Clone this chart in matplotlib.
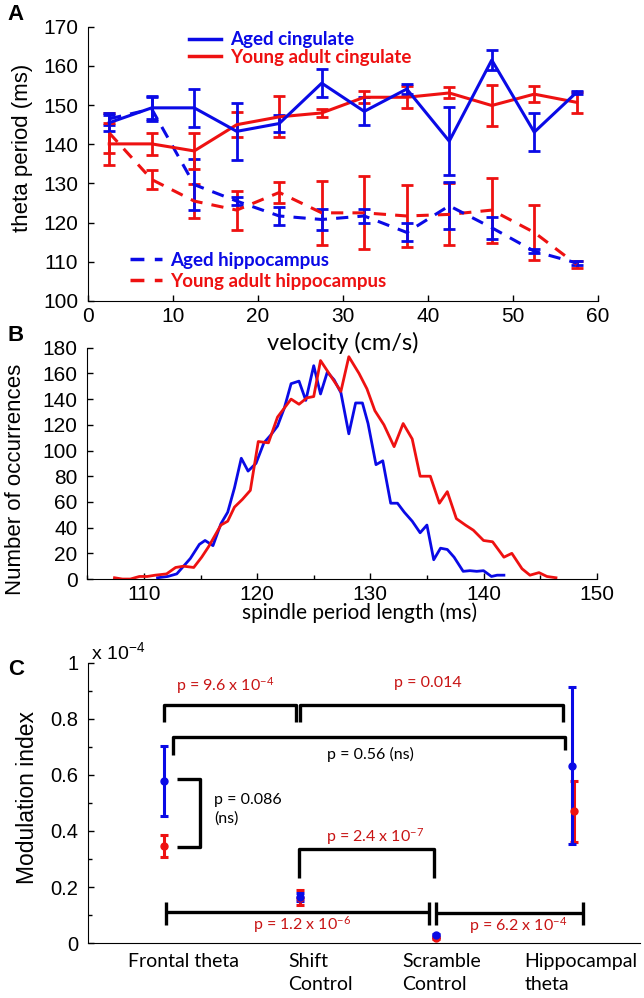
import matplotlib.pyplot as plt
from matplotlib.ticker import MultipleLocator

plt.rcParams['font.family'] = ['Liberation Sans', 'DejaVu Sans']
plt.rcParams['mathtext.default'] = 'regular'
NARROW = ['Lato', 'DejaVu Sans']

BLUE = '#0a0ae6'
RED = '#ee1111'
DARKRED = '#c81414'

# ---- panel A: theta period vs running velocity
velocity = [2.5, 7.5, 12.5, 17.5, 22.5, 27.5, 32.5, 37.5, 42.5, 47.5, 52.5, 57.5]
aged_cing = [145.5, 149.3, 149.3, 143.3, 145.3, 155.6, 148.4, 154.1, 140.8, 161.5, 143.1, 153.3]
aged_cing_err = [2.0, 2.9, 4.8, 7.2, 2.2, 3.5, 3.6, 1.3, 8.6, 2.6, 4.8, 0.4]
young_cing = [140.1, 140.1, 138.3, 145.0, 147.0, 148.0, 152.0, 152.0, 153.1, 149.9, 152.8, 150.7]
young_cing_err = [5.3, 2.9, 4.5, 3.2, 5.2, 1.0, 1.5, 2.8, 1.4, 5.3, 2.0, 2.6]
aged_hipp = [146.5, 149.0, 129.7, 125.5, 121.7, 120.8, 121.7, 117.5, 124.3, 118.7, 112.7, 109.7]
aged_hipp_err = [1.5, 3.0, 6.5, 1.0, 2.2, 2.6, 1.7, 2.3, 6.0, 2.8, 0.5, 0.5]
young_hipp = [142.9, 131.0, 125.5, 123.2, 127.7, 122.5, 122.5, 121.7, 122.1, 123.2, 117.5, 109.3]
young_hipp_err = [5.2, 2.5, 4.3, 5.0, 2.8, 8.2, 9.3, 8.0, 7.9, 8.3, 7.0, 0.9]

# ---- panel B: spindle period histograms
blue_ms = [111.2, 112.1, 112.9, 114.1, 114.9, 115.4, 116.1, 116.8, 117.4, 118.0, 118.6, 119.2,
           119.9, 120.6, 121.2, 121.8, 122.4, 123.0, 123.7, 124.3, 125.0, 125.6, 126.2, 126.8,
           127.4, 128.1, 128.7, 129.3, 129.8, 130.5, 131.1, 131.8, 132.4, 133.0, 133.7, 134.4,
           135.0, 135.6, 136.2, 136.8, 137.4, 138.2, 138.8, 139.4, 140.0, 140.7, 141.2, 141.8]
blue_count = [1, 2, 4, 16, 27, 30, 26, 43, 52, 71, 94, 84,
              90, 106, 112, 119, 133, 152, 154, 139, 166, 144, 161, 155,
              145, 113, 137, 137, 121, 89, 92, 59, 59, 52, 45, 36,
              42, 15, 24, 23, 17, 6, 6.5, 6, 6.5, 2, 3, 3]
red_ms = [107.4, 108.1, 108.8, 109.6, 110.3, 111.0, 112.0, 112.8, 113.5, 114.4, 115.1, 115.7,
          116.8, 117.4, 118.0, 118.7, 119.4, 120.1, 121.0, 121.8, 122.4, 123.0, 123.7, 124.4,
          125.0, 125.6, 126.5, 127.4, 128.1, 129.0, 129.7, 130.4, 131.2, 132.1, 132.9, 133.7,
          134.4, 135.3, 136.1, 136.8, 137.6, 138.4, 139.1, 140.0, 140.8, 141.8, 142.5, 143.4,
          144.1, 144.9, 145.6, 146.4]
red_count = [1, 0, 0, 2, 2, 3, 4, 9, 10, 9, 17, 25,
             42, 45, 56, 62, 69, 107, 106, 126, 133, 140, 136, 141,
             142, 170, 158, 146, 173, 160, 148, 131, 120, 103, 121, 109,
             80, 80, 59, 68, 47, 42, 38, 30, 29, 17, 20, 8,
             3, 5, 2, 1]

# ---- panel C: modulation index (x 1e-4)
categories = ['Frontal theta', 'Shift\nControl', 'Scramble\nControl', 'Hippocampal\ntheta']
cat_pos = [1, 2, 3, 4]
aged_mi = [0.578, 0.164, 0.027, 0.633]
aged_mi_err = [0.125, 0.015, 0.006, 0.28]
young_mi = [0.347, 0.162, 0.018, 0.47]
young_mi_err = [0.04, 0.028, 0.005, 0.11]
young_dodge = [0, 0, 0, 0.015]

fig = plt.figure(figsize=(6.44, 9.98), dpi=100)


def clean(ax):
    ax.spines['top'].set_visible(False)
    ax.spines['right'].set_visible(False)
    ax.patch.set_visible(False)
    ax.tick_params(direction='in', length=4, width=1, labelsize=15, pad=7)
    ax.tick_params(which='minor', direction='in', length=3, width=1)


# ================= A =================
axA = fig.add_axes([0.1366, 0.6984, 0.792, 0.2748])
ebA = dict(elinewidth=2.0, capsize=4, capthick=2.0, lw=2.2)
axA.errorbar(velocity, young_hipp, yerr=young_hipp_err, color=RED, ls=(0, (4, 3)), **ebA)
axA.errorbar(velocity, aged_hipp, yerr=aged_hipp_err, color=BLUE, ls=(0, (4, 3)), **ebA)
axA.errorbar(velocity, young_cing, yerr=young_cing_err, color=RED, ls='-', **ebA)
axA.errorbar(velocity, aged_cing, yerr=aged_cing_err, color=BLUE, ls='-', **ebA)
axA.set_xlim(0, 60)
axA.set_ylim(100, 170)
axA.xaxis.set_major_locator(MultipleLocator(10))
axA.yaxis.set_major_locator(MultipleLocator(10))
clean(axA)
axA.tick_params(axis='x', pad=4)
axA.set_ylabel('theta period (ms)', fontsize=16)
axA.yaxis.set_label_coords(-0.108, 0.56)
axA.set_xlabel('velocity (cm/s)', fontsize=17, family=NARROW)
axA.xaxis.set_label_coords(0.5, -0.113)

# legend entries drawn as proxy lines
leg_font = dict(family=NARROW, weight='bold', size=13.5)
cing_handles = [plt.Line2D([], [], color=BLUE, lw=2.5), plt.Line2D([], [], color=RED, lw=2.5)]
leg1 = axA.legend(cing_handles, ['Aged cingulate', 'Young adult cingulate'], loc='upper left',
                  bbox_to_anchor=(0.165, 1.045), frameon=False, handlelength=1.7, labelspacing=0.02,
                  handletextpad=0.5, prop=leg_font, labelcolor='linecolor')
axA.add_artist(leg1)
hipp_handles = [plt.Line2D([], [], color=BLUE, lw=2.5, ls=(0, (4, 3))),
                plt.Line2D([], [], color=RED, lw=2.5, ls=(0, (4, 3)))]
axA.legend(hipp_handles, ['Aged hippocampus', 'Young adult hippocampus'], loc='lower left',
           bbox_to_anchor=(0.05, -0.02), frameon=False, handlelength=1.7, labelspacing=0.2,
           handletextpad=0.4, prop=leg_font, labelcolor='linecolor')

# ================= B =================
axB = fig.add_axes([0.1356, 0.4198, 0.791, 0.2318])
axB.plot(blue_ms, blue_count, color=BLUE, lw=2.0)
axB.plot(red_ms, red_count, color=RED, lw=2.0)
axB.set_xlim(105, 150)
axB.set_ylim(0, 180)
axB.xaxis.set_major_locator(MultipleLocator(10))
axB.xaxis.set_minor_locator(MultipleLocator(5))
axB.yaxis.set_major_locator(MultipleLocator(20))
clean(axB)
axB.tick_params(axis='x', pad=4)
axB.set_ylabel('Number of occurrences', fontsize=16)
axB.yaxis.set_label_coords(-0.12, 0.43)
axB.set_xlabel('spindle period length (ms)', fontsize=15, family=NARROW)
axB.xaxis.set_label_coords(0.535, -0.1)

# ================= C =================
axC = fig.add_axes([0.137, 0.0551, 0.857, 0.2806])
ebC = dict(fmt='o', ms=5, elinewidth=2.2, capsize=3, capthick=2.2)
axC.errorbar([p + d for p, d in zip(cat_pos, young_dodge)], young_mi, yerr=young_mi_err,
             color=RED, **ebC)
axC.errorbar(cat_pos, aged_mi, yerr=aged_mi_err, color=BLUE, **ebC)
axC.set_xlim(0.44, 4.5)
axC.set_ylim(0, 1)
axC.yaxis.set_minor_locator(MultipleLocator(0.1))
axC.set_yticks([0, 0.2, 0.4, 0.6, 0.8, 1])
axC.set_yticklabels(['0', '0.2', '0.4', '0.6', '0.8', '1'])
axC.set_xticks([])
clean(axC)
axC.tick_params(axis='y', labelsize=14.5)
axC.set_ylabel('Modulation index', fontsize=16.5)
axC.yaxis.set_label_coords(-0.09, 0.52)
axC.text(0.005, 1.0, r'x 10$^{-4}$', transform=axC.transAxes, fontsize=14, va='bottom', ha='left')

for xc, name in zip([0.735, 1.91, 2.75, 3.65], categories):
    axC.text(xc, -0.035, name, transform=axC.get_xaxis_transform(), ha='left', va='top',
             fontsize=14, family=NARROW, linespacing=1.45)

# significance brackets
bk = dict(color='black', lw=2.4, solid_capstyle='butt')
axC.plot([1.0, 1.0, 1.97, 1.97], [0.79, 0.85, 0.85, 0.79], **bk)
axC.plot([2.0, 2.0, 3.93, 3.93], [0.79, 0.85, 0.85, 0.79], **bk)
axC.plot([1.06, 1.06, 3.95, 3.95], [0.67, 0.736, 0.736, 0.69], **bk)
axC.plot([1.09, 1.26, 1.26, 1.09], [0.584, 0.584, 0.343, 0.343], **bk)
axC.plot([1.99, 1.99, 2.98, 2.98], [0.233, 0.336, 0.336, 0.233], **bk)
axC.plot([1.015, 2.945], [0.111, 0.111], **bk)
axC.plot([1.015, 1.015], [0.064, 0.146], **bk)
axC.plot([2.945, 2.945], [0.064, 0.146], **bk)
axC.plot([3.0, 4.08], [0.107, 0.107], **bk)
axC.plot([3.0, 3.0], [0.064, 0.146], **bk)
axC.plot([4.08, 4.08], [0.064, 0.146], **bk)

pt = dict(fontsize=11.5, family=NARROW, va='center', ha='left')
axC.text(1.085, 0.92, r'p = 9.6 x 10$^{-4}$', color=DARKRED, **pt)
axC.text(2.69, 0.93, 'p = 0.014', color=DARKRED, **pt)
axC.text(2.2, 0.672, 'p = 0.56 (ns)', color='black', **pt)
axC.text(1.365, 0.51, 'p = 0.086', color='black', **pt)
axC.text(1.365, 0.445, '(ns)', color='black', **pt)
axC.text(2.19, 0.38, r'p = 2.4 x 10$^{-7}$', color=DARKRED, **pt)
axC.text(1.65, 0.067, r'p = 1.2 x 10$^{-6}$', color=DARKRED, **pt)
axC.text(3.24, 0.064, r'p = 6.2 x 10$^{-4}$', color=DARKRED, **pt)

# panel letters
for letter, yy in [('A', 0.985), ('B', 0.664), ('C', 0.329)]:
    fig.text(0.012, yy, letter, fontsize=16, weight='bold', va='center', ha='left')

fig.savefig('out.png', dpi=100)
